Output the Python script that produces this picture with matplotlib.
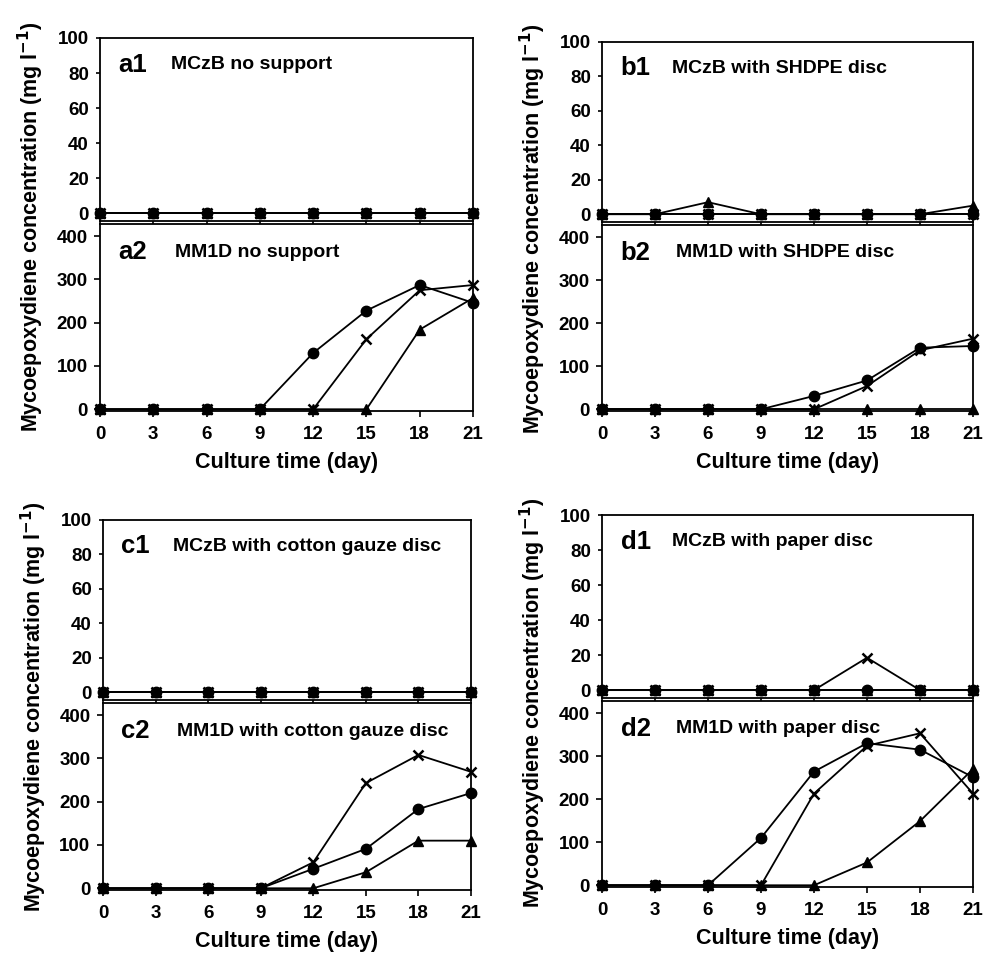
import matplotlib.pyplot as plt
import numpy as np

plt.rcParams['font.family'] = ['Liberation Sans', 'DejaVu Sans']
plt.rcParams['font.weight'] = 'bold'

days = [0, 3, 6, 9, 12, 15, 18, 21]
zeros = [0, 0, 0, 0, 0, 0, 0, 0]

# top row of each panel: MCzB medium
a1_circle = zeros
a1_cross = zeros
a1_tri = zeros
b1_circle = zeros
b1_cross = zeros
b1_tri = [0, 0, 7, 0, 0, 0, 0, 5]
c1_circle = zeros
c1_cross = zeros
c1_tri = zeros
d1_circle = zeros
d1_cross = [0, 0, 0, 0, 0, 18.5, 0, 0]
d1_tri = zeros

# bottom row of each panel: MM1D medium
a2_circle = [0, 0, 0, 0, 130, 228, 287, 246]
a2_cross = [0, 0, 0, 0, 0, 162, 275, 287]
a2_tri = [0, 0, 0, 0, 0, 0, 184, 257]
b2_circle = [0, 0, 0, 0, 31, 67, 143, 147]
b2_cross = [0, 0, 0, 0, 0, 54, 137, 164]
b2_tri = zeros
c2_circle = [0, 0, 0, 0, 45, 91, 183, 220]
c2_cross = [0, 0, 0, 0, 60, 243, 308, 269]
c2_tri = [0, 0, 0, 0, 0, 37, 110, 110]
d2_circle = [0, 0, 0, 110, 264, 330, 315, 251]
d2_cross = [0, 0, 0, 0, 213, 324, 353, 213]
d2_tri = [0, 0, 0, 0, 0, 53, 149, 270]

panels = [
    ("a", "MCzB no support", "MM1D no support",
     (a1_circle, a1_cross, a1_tri), (a2_circle, a2_cross, a2_tri)),
    ("b", "MCzB with SHDPE disc", "MM1D with SHDPE disc",
     (b1_circle, b1_cross, b1_tri), (b2_circle, b2_cross, b2_tri)),
    ("c", "MCzB with cotton gauze disc", "MM1D with cotton gauze disc",
     (c1_circle, c1_cross, c1_tri), (c2_circle, c2_cross, c2_tri)),
    ("d", "MCzB with paper disc", "MM1D with paper disc",
     (d1_circle, d1_cross, d1_tri), (d2_circle, d2_cross, d2_tri)),
]

W, H = 993, 955
# pixel boxes: left, right, top-of-upper, bottom-of-upper, top-of-lower, bottom-of-lower
boxes = [
    (100, 473, 38, 221, 224, 411),
    (602, 973, 42, 222, 225, 411),
    (103, 471, 520, 700, 703, 890),
    (602, 973, 515, 698, 701, 887),
]

fig = plt.figure(figsize=(W / 100, H / 100), dpi=100)


def draw(ax, series):
    circ, cross, tri = series
    ax.plot(days, tri, color="black", lw=1.3, marker="^", ms=6.5, clip_on=False, zorder=3)
    ax.plot(days, cross, color="black", lw=1.3, marker="x", ms=7, mew=1.8, clip_on=False, zorder=3)
    ax.plot(days, circ, color="black", lw=1.3, marker="o", ms=7.5, clip_on=False, zorder=4)
    ax.set_xlim(0, 21)
    ax.set_xticks(days)
    for s in ax.spines.values():
        s.set_linewidth(1.3)
    ax.tick_params(direction="out", width=1.2, length=4, labelsize=13.5, pad=5)
    ax.tick_params(axis="x", pad=7)
    for lab in ax.get_xticklabels() + ax.get_yticklabels():
        lab.set_fontweight("bold")


for (key, t1, t2, s1, s2), (l, r, t_up, b_up, t_lo, b_lo) in zip(panels, boxes):
    ax1 = fig.add_axes([l / W, 1 - b_up / H, (r - l) / W, (b_up - t_up) / H])
    ax2 = fig.add_axes([l / W, 1 - b_lo / H, (r - l) / W, (b_lo - t_lo) / H])
    draw(ax1, s1)
    draw(ax2, s2)
    ax1.set_ylim(-4.5, 100)
    ax1.set_yticks([0, 20, 40, 60, 80, 100])
    ax1.tick_params(labelbottom=False, length=3)
    ax2.set_ylim(-4, 428)
    ax2.set_yticks([0, 100, 200, 300, 400])
    ax2.set_xlabel("Culture time (day)", fontsize=15.5, fontweight="bold", labelpad=6)

    ax1.text(0.05, 0.855, key + "1", transform=ax1.transAxes, fontsize=18.5,
             fontweight="bold", va="center")
    ax1.text(0.19, 0.855, t1, transform=ax1.transAxes, fontsize=14,
             fontweight="bold", va="center")
    ax2.text(0.05, 0.85, key + "2", transform=ax2.transAxes, fontsize=18.5,
             fontweight="bold", va="center")
    ax2.text(0.2, 0.85, t2, transform=ax2.transAxes, fontsize=14,
             fontweight="bold", va="center")

    fig.text((l - 69) / W, 1 - ((t_up + b_lo) / 2 + 2) / H,
             "Mycoepoxydiene concentration (mg l$^{\\mathbf{-1}}$)",
             rotation=90, ha="center", va="center", fontsize=15.5, fontweight="bold")

fig.savefig("out.png", dpi=100)
